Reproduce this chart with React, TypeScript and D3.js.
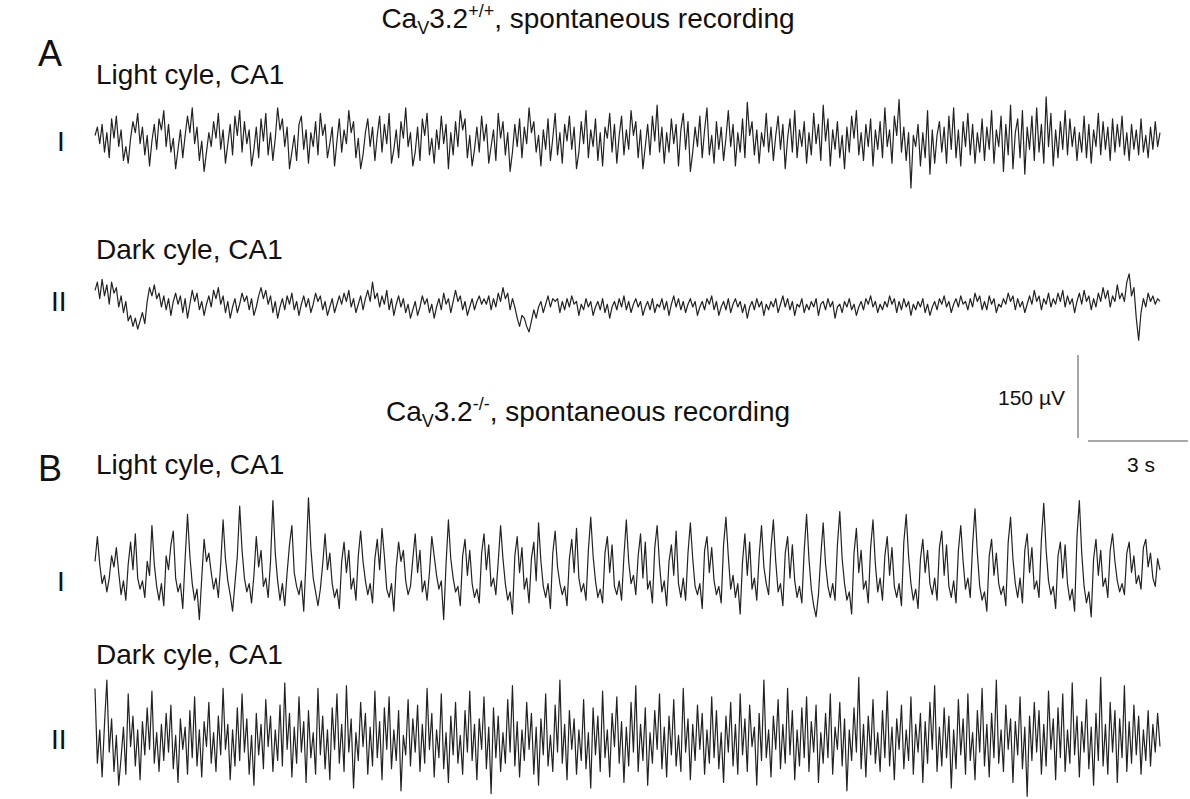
import { useRef, useEffect } from "react";
import * as d3 from "d3";

// traces in µV, one sample every 32/449 s
const lightWT = [
  10, 25, -5, 30, -20, 15, -30, 40, 5, 45, -10, 20, -35, -10, -40,
  5, 35, 15, 50, -5, 25, -25, 10, -45, 0, 30, -15, 40, 20, 55,
  -10, 30, -20, 5, -50, -15, 20, -30, 10, 45, 15, 60, -5, 25, -35,
  0, -55, -20, 15, -10, 35, 5, 50, -15, 20, -40, -5, 30, -25, 45,
  10, 55, -20, 35, -5, 20, -45, -15, 25, -30, 40, 0, 50, -25, 15,
  -35, 5, 60, 20, 40, -10, 25, -50, -20, 10, -35, 30, 45, -15, 20,
  -40, 15, -10, 35, -25, 50, 10, 30, -30, -5, 25, -45, 0, 40, -20,
  20, -5, 55, 15, 35, -30, 5, -50, -25, 15, 40, -10, 25, -35, 10,
  45, -20, 30, -5, 50, -40, -15, 20, -30, 35, 5, 60, -10, 15, -45,
  -20, 25, -35, 40, 10, 50, -25, 5, -40, 20, -15, 45, -5, 30, -50,
  15, -25, 35, -10, 55, 20, 40, -30, 10, -45, -15, 25, -20, 45, 0,
  30, -40, -10, 20, -35, 50, 5, 35, -25, 15, -55, -20, 30, -10, 40,
  -30, 25, -5, 60, 15, 35, -20, 10, -45, 20, -15, 40, -35, 5, 50,
  -25, 15, -40, 30, 0, 45, -15, 25, -50, -20, 35, -5, 55, -30, 20,
  -10, 40, -35, 15, -45, 25, 5, 50, -20, 30, -40, 10, 45, -25, 20,
  -15, 55, 10, 35, -30, 20, -50, -10, 30, -25, 45, 0, 65, -20, 25,
  -40, 15, -20, 40, -5, 30, -45, 20, 50, -15, 35, -55, -20, 25, -10,
  45, -30, 20, 60, -25, 10, -40, 35, -15, 25, -35, 5, 55, -10, 30,
  -45, 15, -20, 40, -30, 70, 10, 35, -25, 20, -40, 15, -10, 50, -20,
  25, -35, 10, 45, -15, 30, -50, 5, 40, -20, 55, -30, 20, -10, 35,
  -40, 15, -25, 50, -5, 30, -35, 65, 0, 40, -45, 20, -15, 35, -30,
  10, -50, 25, -20, 45, 5, 55, -25, 15, -35, 30, -10, 40, -45, 20,
  -15, 35, -30, 60, -10, 20, -40, 45, 10, 75, -20, 25, -35, 15, -85,
  10, -10, 30, -45, 15, -30, 55, -60, 20, -40, 10, 35, -20, 25, -40,
  45, -15, 60, -30, 20, -45, 35, -10, 50, -25, 30, -40, 15, -20, 40,
  -35, 25, -15, 55, -40, 20, -10, 45, -55, 30, -25, 65, -50, 15, 40,
  -30, 55, -60, 25, -15, 45, -35, 60, -20, 30, -40, 80, -10, 50, -45,
  20, -30, 35, -15, 55, -25, 40, -10, 25, -35, 15, -20, 45, -30, 30,
  -40, 20, -10, 50, -25, 35, -15, 25, -35, 40, -20, 30, -10, 45, -25,
  15, -35, 30, -15, 20, -25, 40, -20, 10, -30, 25, -15, 35, -10, 15,
];

const darkWT = [
  30, 45, 15, 50, 20, 40, 5, 45, 25, 35, 0, 20, -10, 10, -25,
  -15, -35, -20, -40, -25, -10, -30, 10, 35, 20, 40, 15, 25, 0, 20,
  -5, 15, -15, 10, 25, 5, 20, -10, 15, -20, 5, 30, 10, 25, -5,
  10, -15, 5, 20, 0, 30, 15, 35, 5, 20, -10, 10, -20, 0, 15,
  -10, 5, 25, 10, 20, -5, 15, -15, 0, 20, 35, 15, 30, 5, 20,
  -10, 10, -20, 0, 15, -5, 20, 5, 25, -5, 10, -15, 5, 20, 0,
  15, -10, 5, 25, 10, 20, -5, 10, -15, 0, 15, -10, 5, 20, 5,
  25, 10, 30, 0, 15, -10, 5, 20, -5, 15, 30, 10, 45, 15, 25,
  0, 20, 5, 30, -5, 15, -15, 5, 20, 0, 15, -10, 5, -20, -5,
  10, -15, 0, 20, 5, 15, -10, 5, -20, 0, 15, -5, 25, 5, 15,
  -10, 10, 30, 10, 20, -5, 10, -15, 0, 15, -5, 10, 20, 5, 15,
  5, 20, -5, 15, 0, 25, 10, 35, 15, 25, -5, 15, 0, -20, -35,
  -15, -20, -35, -45, -25, -5, -20, 0, 10, -10, 5, 20, 0, 15, 10,
  15, -10, 10, -5, 15, 0, 20, 5, 10, -15, 5, -5, 15, 0, 10,
  -15, 0, 10, -5, 15, -10, 5, -20, 0, 10, -5, 15, 0, 20, -5,
  10, -10, 5, 15, 0, 10, -15, 0, 10, -5, 15, -10, 5, 0, 15,
  -5, 10, -15, 5, 20, 0, 15, -5, 10, -10, 5, 15, 0, 10, -15,
  0, 10, -5, 15, 5, 20, -5, 10, -15, 0, 10, -5, 15, -10, 5,
  15, 0, 10, -10, 5, -20, 0, 10, -5, 15, 0, 10, -15, 5, -5,
  10, 0, 15, -10, 5, 20, 0, 15, -5, 10, -15, 5, 0, 15, -10,
  5, -5, 10, 0, 15, -15, 5, 10, -5, 15, 0, 10, -20, 0, 5,
  -10, 10, 0, 15, -5, 5, -15, 0, 10, -5, 15, 5, 20, 0, 10,
  -10, 5, -5, 10, 0, 20, 5, 15, -10, 10, -5, 15, 0, 10, -15,
  5, -5, 10, 0, 15, -10, 5, -15, 0, 10, -5, 15, 5, 20, 0,
  10, -10, 5, 15, 0, 20, 5, 10, -5, 15, 0, 25, 10, 20, -5,
  10, -5, 20, 5, 15, -10, 5, 0, 15, 5, 25, 10, 20, -5, 15,
  0, 10, -10, 5, 20, 5, 30, 10, 20, -5, 15, 5, 25, 0, 15,
  5, 25, 10, 30, 0, 20, 5, 15, -10, 10, 25, 5, 30, 10, 20,
  -5, 15, 0, 25, 10, 35, 15, 30, 0, 20, 10, 40, 15, 25, 10,
  45, 60, 20, 35, -20, -60, -10, 15, 0, 25, 10, 20, 5, 15, 10,
];

const lightKO = [
  10, 55, 5, -30, -15, -45, -20, 20, 0, 35, -10, -50, -25, -60, 5,
  45, -5, 60, -20, -40, -25, -55, 10, -15, 75, 5, -35, -60, -30, -70,
  20, -5, 40, 65, -20, -45, -30, -75, 15, 95, 20, -30, -60, -40, -95,
  -20, 50, 10, 25, -10, -40, -20, -55, 5, 85, 15, -25, -50, -80, -30,
  20, 110, 30, -20, -45, -30, -65, -15, 55, 0, 30, -35, -20, -55, 10,
  120, 25, -25, -60, -30, -70, -10, 40, 75, -10, -35, -50, -25, -80, 15,
  125, 35, -20, -45, -70, -40, 5, 60, -5, 25, -30, -55, -40, -75, 10,
  45, -10, 30, -40, -20, -60, 20, 65, 10, -25, -50, -30, -65, 15, 50,
  -5, 70, 20, -40, -55, -30, -80, 0, 45, 10, 30, -25, -50, -35, 15,
  60, -10, 30, -45, -25, -60, -10, 55, 20, -15, -40, -25, -95, 5, 85,
  15, -20, -45, -35, -70, 20, 50, -15, 30, -30, -55, -40, -65, 25, 60,
  -5, 40, -35, -20, -50, 10, 75, 15, -30, -60, -45, -85, 20, 55, -10,
  35, -40, -20, -65, 15, 45, -25, 80, 10, -35, -55, -30, -75, 25, 65,
  0, -30, -50, -35, -70, 15, 50, -10, 70, -20, -45, -30, -60, 30, 90,
  20, -25, -55, -40, -65, 25, 55, -10, 40, -35, -50, -25, -60, 20, 85,
  10, -30, -15, -50, 20, 60, -20, 45, -40, -25, -65, 35, 75, 5, -45,
  -25, -70, 10, 40, -15, 65, -30, -55, -20, -60, 25, 80, 15, -35, -50,
  -30, -75, 30, 55, -10, 35, -25, -50, -35, -65, 40, 90, 20, -40, -15,
  -55, -30, -85, 10, 60, -15, 45, -40, -20, -60, 20, 75, 0, -30, -50,
  35, 85, 10, -45, -30, -70, 25, 55, -20, 40, -25, -55, -35, -65, 30,
  95, 15, -40, -70, -90, -50, 20, 80, 5, -35, -55, -30, -60, 40, 100,
  15, -30, -60, -45, -85, 25, 70, -10, 30, -40, -25, -65, 35, 85, 5,
  -45, -20, -60, 20, 55, -15, 35, -35, -55, -30, -70, 45, 95, 20, -30,
  -60, -40, -75, 15, 50, -10, 30, -30, -50, -20, -60, 35, 65, -15, 40,
  -35, -55, -25, -65, 30, 75, 10, -40, -20, -55, 40, 105, 25, -35, -60,
  -45, -80, 20, 50, -15, 25, -30, -50, -35, -70, 45, 90, 15, -30, -55,
  -20, -65, 30, 60, -10, 35, -40, -25, -55, 50, 115, 30, -25, -50, -35,
  -75, 20, 45, -20, 40, -30, -60, -40, -80, 55, 120, 25, -35, -65, -45,
  -90, 15, 50, -15, 30, -35, -20, -55, 30, 60, 10, -25, -45, -30, -50,
  25, 45, -10, 20, -30, -15, -40, 35, 50, 0, 25, -20, -35, 15, -5,
];

const darkKO = [
  95, -40, 20, -65, 30, 110, -20, 40, -55, 10, -80, -30, 25, -60, 85,
  -10, 45, -45, 20, -70, 35, -25, 60, -15, 90, -40, 15, -55, 30, -35,
  50, -20, 65, -50, 10, -75, 40, -15, 25, -60, 55, -30, 80, -45, 20,
  -65, 35, -10, 70, -40, 15, -55, 45, -25, 95, -15, 30, -70, 20, -45,
  60, -35, 85, -20, 40, -60, 10, -80, 50, -25, 30, -50, 75, -10, 45,
  -55, 20, -35, 65, -45, 105, -15, 50, -65, 25, -40, 80, -20, 35, -75,
  55, -30, 15, -60, 95, -25, 45, -50, 20, -70, 60, -15, 85, -40, 30,
  -55, 100, -20, 40, -85, 15, -35, 70, -10, 50, -60, 25, -45, 90, -30,
  35, -70, 60, -15, 80, -50, 20, -35, 55, -90, 10, -25, 75, -45, 40,
  -20, 65, -55, 30, -40, 95, -15, 50, -65, 20, -30, 85, -50, 15, -75,
  45, -25, 70, -40, 10, -60, 55, -20, 90, -35, 30, -70, 40, -15, 80,
  -50, 25, -95, 60, -30, 45, -55, 15, -40, 75, -20, 100, -45, 35, -65,
  20, -35, 70, -15, 50, -60, 25, -80, 40, -25, 85, -45, 10, -55, 65,
  -20, 110, -40, 30, -70, 55, -15, 40, -60, 20, -35, 75, -50, 15, -85,
  60, -25, 45, -55, 90, -30, 20, -65, 50, -10, 80, -40, 35, -75, 25,
  -45, 70, -20, 100, -55, 30, -35, 60, -80, 15, -40, 55, -15, 85, -50,
  25, -65, 45, -25, 75, -45, 10, -55, 95, -20, 40, -70, 30, -35, 65,
  -15, 50, -60, 20, -40, 80, -30, 55, -50, 15, -75, 45, -20, 70, -45,
  30, -60, 85, -25, 40, -55, 65, -10, 25, -80, 50, -35, 110, -30, 20,
  -65, 45, -15, 75, -50, 30, -40, 95, -25, 55, -70, 20, -45, 60, -30,
  80, -55, 35, -20, 65, -75, 15, -40, 50, -30, 85, -60, 25, -15, 70,
  -45, 40, -90, 20, -35, 60, -20, 115, -50, 30, -65, 45, -25, 75, -40,
  15, -55, 55, -30, 90, -45, 25, -70, 40, -15, 65, -50, 20, -35, 80,
  -60, 30, -20, 50, -75, 35, -40, 70, -15, 100, -55, 25, -45, 60, -30,
  45, -85, 20, -50, 75, -25, 40, -60, 85, -35, 15, -70, 55, -20, 95,
  -45, 30, -65, 50, -30, 110, -40, 20, -55, 65, -15, 40, -75, 35, -25,
  80, -50, 25, -100, 45, -35, 70, -20, 55, -60, 30, -45, 90, -15, 40,
  -70, 60, -30, 85, -55, 20, -40, 105, -25, 45, -65, 35, -20, 75, -50,
  25, -80, 50, -35, 115, -45, 30, -60, 70, -20, 55, -75, 40, -30, 100,
  -55, 35, -40, 65, -25, 45, -60, 20, -35, 55, -45, 30, -20, 50, -10,
];

const traceLabels = ["Light cyle, CA1", "Dark cyle, CA1", "Light cyle, CA1", "Dark cyle, CA1"];
const traceNumerals = ["I", "II", "I", "II"];
const genotypes = ["+/+", "-/-"];
const duration = 32; // s
const barUV = 150;
const barS = 3;

const App = () => {
  const chartRef = useRef(null);

  useEffect(() => {
    document.body.style.margin = "0";
    const el = chartRef.current;
    const width = 1190;
    const height = 799;
    const font = "'Liberation Sans', Arial, sans-serif";

    const svg = d3
      .select(el)
      .append("svg")
      .attr("width", width)
      .attr("height", height)
      .style("display", "block")
      .style("background", "#fff")
      .style("font-family", font);

    const xScale = d3.scaleLinear().domain([0, duration]).range([95, 1160]);
    const pxPerUV = 83 / barUV;

    const traces = [lightWT, darkWT, lightKO, darkKO];
    const centers = [141, 307, 567, 741];
    const labelY = [84, 259, 474, 664];
    const numeralY = [151, 311, 591, 749];
    const numeralX = [57, 51, 57, 51];

    traces.forEach((data, k) => {
      const c = centers[k];
      const yScale = d3
        .scaleLinear()
        .domain([-barUV, barUV])
        .range([c + barUV * pxPerUV, c - barUV * pxPerUV]);
      const line = d3
        .line<number>()
        .x((_d, i) => xScale((i * duration) / (data.length - 1)))
        .y(d => yScale(d));

      svg
        .append("path")
        .datum(data)
        .attr("d", line)
        .attr("fill", "none")
        .attr("stroke", "#222")
        .attr("stroke-width", 1.2)
        .attr("stroke-linejoin", "round");

      svg
        .append("text")
        .attr("x", 96)
        .attr("y", labelY[k])
        .attr("font-size", 28)
        .attr("fill", "#111")
        .text(traceLabels[k]);

      svg
        .append("text")
        .attr("x", numeralX[k])
        .attr("y", numeralY[k])
        .attr("font-size", 28)
        .attr("fill", "#111")
        .text(traceNumerals[k]);
    });

    // section letters
    svg.append("text").attr("x", 38).attr("y", 66).attr("font-size", 36).attr("fill", "#111").text("A");
    svg.append("text").attr("x", 38).attr("y", 481).attr("font-size", 36).attr("fill", "#111").text("B");

    // titles
    const titleY = [28, 421];
    genotypes.forEach((g, k) => {
      const t = svg
        .append("text")
        .attr("x", 588)
        .attr("y", titleY[k])
        .attr("text-anchor", "middle")
        .attr("font-size", 28)
        .attr("fill", "#111");
      t.append("tspan").text("Ca");
      t.append("tspan").attr("font-size", 18).attr("dy", 6).text("V");
      t.append("tspan").attr("dy", -6).text("3.2");
      t.append("tspan").attr("font-size", 18).attr("dy", -11).text(g);
      t.append("tspan").attr("dy", 11).text(", spontaneous recording");
    });

    // scale bar
    const barX = 1078;
    const barBottom = 438;
    svg
      .append("line")
      .attr("x1", barX)
      .attr("x2", barX)
      .attr("y1", barBottom)
      .attr("y2", barBottom - barUV * pxPerUV)
      .attr("stroke", "#8a8a8a")
      .attr("stroke-width", 1.5);
    const hx0 = 1088;
    svg
      .append("line")
      .attr("x1", hx0)
      .attr("x2", hx0 + xScale(barS) - xScale(0))
      .attr("y1", barBottom + 3)
      .attr("y2", barBottom + 3)
      .attr("stroke", "#8a8a8a")
      .attr("stroke-width", 1.5);
    svg
      .append("text")
      .attr("x", 1065)
      .attr("y", 405)
      .attr("text-anchor", "end")
      .attr("font-size", 21)
      .attr("fill", "#111")
      .text(`${barUV} µV`);
    svg
      .append("text")
      .attr("x", 1141)
      .attr("y", 472)
      .attr("text-anchor", "middle")
      .attr("font-size", 21)
      .attr("fill", "#111")
      .text(`${barS} s`);

    return () => {
      d3.select(el).selectAll("svg").remove();
    };
  }, []);

  return <div ref={chartRef}></div>;
};

export default App;
